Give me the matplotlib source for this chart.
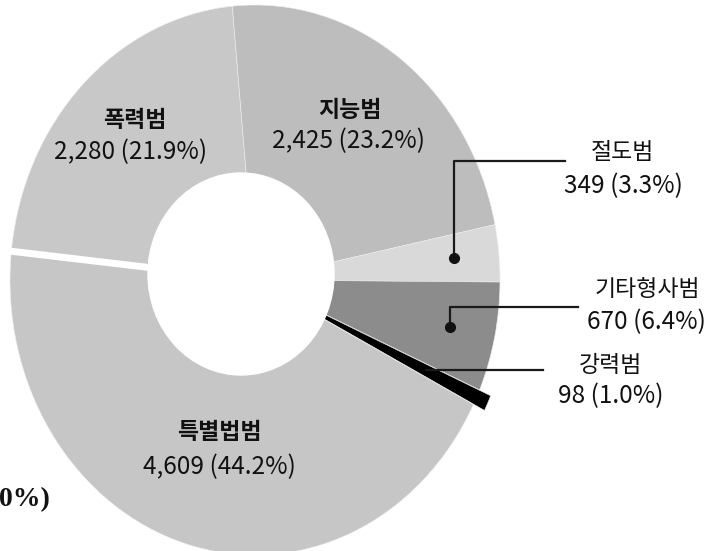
import numpy as np
import matplotlib
matplotlib.use("Agg")
import matplotlib.pyplot as plt
from matplotlib.patches import Ellipse

plt.rcParams['font.family'] = ['Noto Sans CJK KR', 'DejaVu Sans']

# data
categories = ['폭력범', '지능범', '절도범', '기타형사범', '강력범', '특별법범']
counts = [2280, 2425, 349, 670, 98, 4609]
percents = [21.9, 23.2, 3.3, 6.4, 1.0, 44.2]
colors = ['#c8c8c8', '#bdbdbd', '#d9d9d9', '#8c8c8c', '#000000', '#c6c6c6']

W, H = 712, 551
CX, CY, RX, RY = 255, 280, 245, 275   # outer ring (pixels), slightly squashed


def to_data(px, py):
    return (px - CX) / RX, (CY - py) / RY


fig = plt.figure(figsize=(W / 100, H / 100), dpi=100)
ax = fig.add_axes([0, 0, 1, 1])

start = 174
explode = [0, 0, 0, 0, 0.05, 0]
wedges, _ = ax.pie(counts, colors=colors, startangle=start, counterclock=False,
                   explode=explode, radius=1,
                   wedgeprops=dict(linewidth=0.4, edgecolor='#eeeeee'))

# white gap between 폭력범 and 특별법범
a = np.deg2rad(start)
ax.plot([0, 1.05 * np.cos(a)], [0, 1.05 * np.sin(a)], color='white', lw=5, zorder=2)

# hole of the donut
hx, hy = to_data(241, 274)
ax.add_patch(Ellipse((hx, hy), 2 * 93 / RX, 2 * 101 / RY, color='white', zorder=3))

ax.set_aspect('auto')
x0, y1 = to_data(0, 0)
x1, y0 = to_data(W, H)
ax.set_xlim(x0, x1)
ax.set_ylim(y0, y1)
ax.axis('off')


def label_text(i):
    return f'{counts[i]:,} ({percents[i]:.1f}%)'


NAME_FS = 16.5
NUM_FS = 17.5

# labels inside the ring: (name pos, number pos) in pixels
inner = {0: ((135, 121), (131, 152)),
         1: ((350, 111), (349, 141)),
         5: ((219, 433), (219, 467))}
for i, (p_name, p_num) in inner.items():
    ax.text(*to_data(*p_name), categories[i], ha='center', va='center',
            fontsize=NAME_FS, fontweight='bold', color='#111111', zorder=5)
    ax.text(*to_data(*p_num), label_text(i), ha='center', va='center',
            fontsize=NUM_FS, color='#111111', zorder=5)

# labels outside with leader lines: name pos, number pos, line y, line end x, dot, radius
outer = {2: ((622, 153), (623, 186), 161, 565, True, 0.815),
         3: ((647, 290), (646, 322), 307, 578, True, 0.815),
         4: ((611, 366), (611, 396), None, 543, False, 0.72)}
for i, (p_name, p_num, ly, lx, dot, r) in outer.items():
    ax.text(*to_data(*p_name), categories[i], ha='center', va='center',
            fontsize=NAME_FS, color='#111111', zorder=5)
    ax.text(*to_data(*p_num), label_text(i), ha='center', va='center',
            fontsize=NUM_FS, color='#111111', zorder=5)
    w = wedges[i]
    mid = np.deg2rad((w.theta1 + w.theta2) / 2)
    ox, oy = w.center
    px_, py_ = ox + r * np.cos(mid), oy + r * np.sin(mid)
    ex = to_data(lx, 0)[0]
    if ly is not None:
        yl = to_data(0, ly)[1]
        ax.plot([px_, px_, ex], [py_, yl, yl], color='#1a1a1a', lw=1.6, zorder=4)
    else:
        ax.plot([px_, ex], [py_, py_], color='#1a1a1a', lw=1.6, zorder=4)
    if dot:
        ax.plot(px_, py_, 'o', color='#111111', ms=7, zorder=4)

# cut-off caption from the neighbouring chart
ax.text(*to_data(-1, 500), '0%)', ha='left', va='center', fontsize=20,
        fontweight='bold', family='Liberation Serif', color='#111111')

fig.savefig('out.png', dpi=100)
